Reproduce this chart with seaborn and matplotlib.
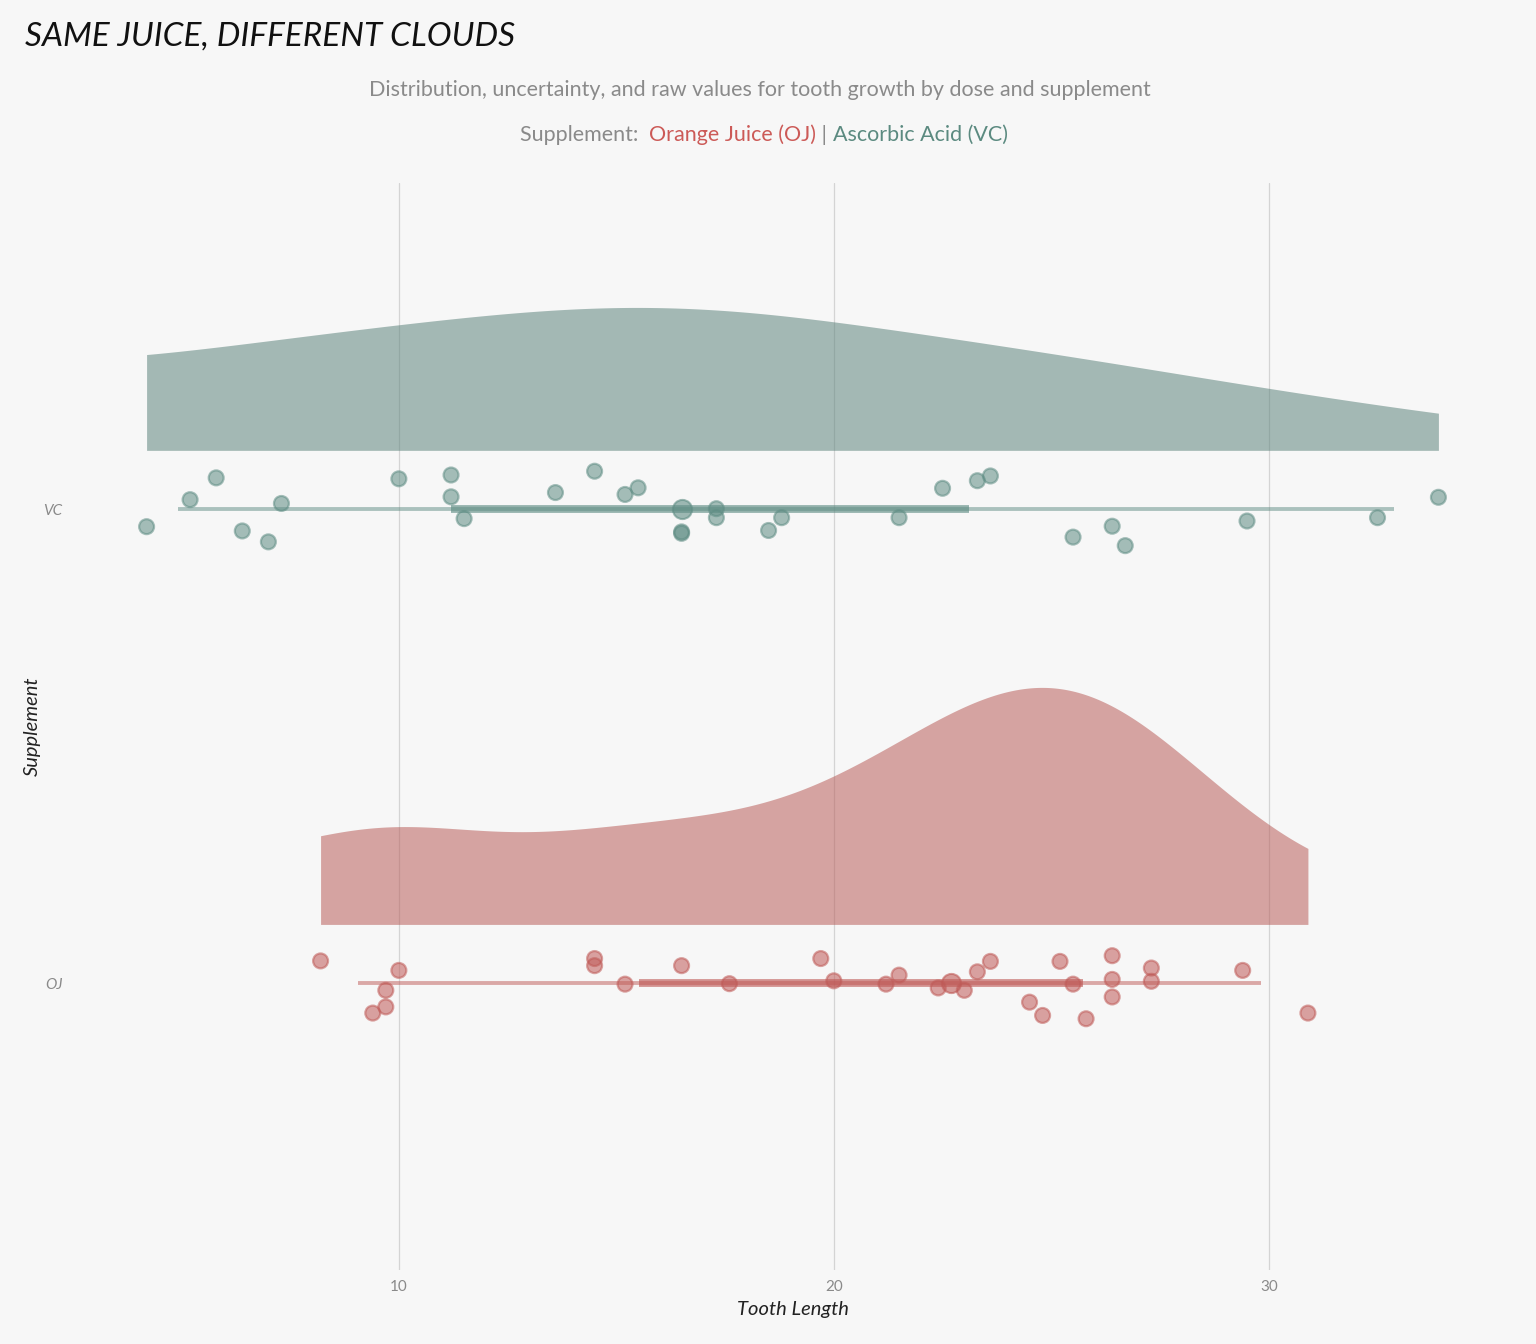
import numpy as np
import pandas as pd
import matplotlib
matplotlib.use("Agg")
import matplotlib.pyplot as plt
import seaborn as sns

# ---------------- data (ToothGrowth) ----------------
supp_levels = ["OJ", "VC"]
vc_len = [4.2, 5.2, 5.8, 6.4, 7.0, 7.3, 10.0, 11.2, 11.2, 11.5, 13.6, 14.5, 15.2, 15.5, 16.5,
          16.5, 17.3, 17.3, 18.5, 18.8, 21.5, 22.5, 23.3, 23.6, 25.5, 26.4, 26.7, 29.5, 32.5, 33.9]
vc_jitter = [-0.037, 0.020, 0.066, -0.046, -0.069, 0.012, 0.064, 0.072, 0.026, -0.020, 0.035, 0.080,
             0.031, 0.045, -0.048, -0.051, 0.001, -0.018, -0.045, -0.018, -0.018, 0.044, 0.060, 0.070,
             -0.059, -0.036, -0.077, -0.025, -0.018, 0.025]
oj_len = [8.2, 9.4, 9.7, 9.7, 10.0, 14.5, 14.5, 15.2, 16.5, 17.6, 19.7, 20.0, 21.2, 21.5, 22.4,
          23.0, 23.3, 23.6, 24.5, 24.8, 25.2, 25.5, 25.8, 26.4, 26.4, 26.4, 27.3, 27.3, 29.4, 30.9]
oj_jitter = [0.047, -0.063, -0.015, -0.050, 0.027, 0.052, 0.037, -0.002, 0.037, -0.001, 0.052, 0.005,
             -0.002, 0.017, -0.010, -0.015, 0.024, 0.046, -0.040, -0.068, 0.046, -0.002, -0.075, 0.058,
             0.008, -0.029, 0.032, 0.004, 0.027, -0.063]
x_ticks = [10, 20, 30]

title = "SAME JUICE, DIFFERENT CLOUDS"
subtitle = "Distribution, uncertainty, and raw values for tooth growth by dose and supplement"

# ---------------- styles ----------------
BG = "#f7f7f7"
point_col = {"OJ": "#bf5a57", "VC": "#5f8d84"}
fill_col = {"OJ": "#b95f5b", "VC": "#5f857e"}
text_red = "#cc5a57"
text_green = "#5b8a80"
grey = "#8a8a8a"
FONT = ["Lato", "DejaVu Sans"]

sns.set_theme(style="white", rc={"axes.facecolor": BG, "figure.facecolor": BG})
plt.rcParams["font.family"] = FONT

df = pd.DataFrame({
    "len": vc_len + oj_len,
    "supp": ["VC"] * len(vc_len) + ["OJ"] * len(oj_len),
    "jitter": vc_jitter + oj_jitter,
})
ypos = {"OJ": 1.0, "VC": 2.0}
df["y"] = df["supp"].map(ypos) + df["jitter"]

fig = plt.figure(figsize=(15.36, 13.44), dpi=100)
ax = fig.add_axes([82 / 1536, 1 - 1270 / 1344, (1503 - 82) / 1536, (1270 - 183) / 1344])
ax.set_facecolor(BG)

# ---------------- densities (half-eye clouds, bounded/reflected KDE) ----------------
bw = {"VC": 4.6, "OJ": 2.7}
pad_lo = {"VC": 2.6, "OJ": 2.4}
pad_hi = {"VC": 6.0, "OJ": 2.4}
dens = {}
for s in supp_levels:
    v = np.asarray(df.loc[df.supp == s, "len"])
    lo, hi = v.min() - pad_lo[s], v.max() + pad_hi[s]
    vv = np.concatenate([v, 2 * lo - v, 2 * hi - v])
    grid = np.linspace(v.min(), v.max(), 400)
    d = np.exp(-0.5 * ((grid[:, None] - vv[None, :]) / bw[s]) ** 2).sum(1) / (len(v) * bw[s] * np.sqrt(2 * np.pi))
    dens[s] = (grid, d)
dmax = max(d.max() for _, d in dens.values())
for s in supp_levels:
    grid, d = dens[s]
    base = ypos[s] + 0.124
    ax.fill_between(grid, base, base + 0.5 * d / dmax, color=fill_col[s], alpha=0.55, lw=0, zorder=2)

# ---------------- intervals ----------------
for s in supp_levels:
    v = np.asarray(df.loc[df.supp == s, "len"])
    q = np.quantile(v, [0.025, 0.25, 0.5, 0.75, 0.975])
    ax.hlines(ypos[s], q[0], q[4], color=point_col[s], alpha=0.5, lw=2.8, zorder=3)
    ax.hlines(ypos[s], q[1], q[3], color=point_col[s], alpha=0.65, lw=5.6, zorder=3)
    ax.scatter([q[2]], [ypos[s]], s=190, color=point_col[s], alpha=0.6, edgecolor=point_col[s],
               linewidth=1.5, zorder=4)

# ---------------- raw points ----------------
sns.scatterplot(data=df, x="len", y="y", hue="supp", palette=point_col, s=115, alpha=0.55,
                edgecolor=df["supp"].map(point_col), linewidth=1.6, legend=False, ax=ax, zorder=5)

# ---------------- axes ----------------
allv = np.array(vc_len + oj_len)
rng = allv.max() - allv.min()
ax.set_xlim(allv.min() - 0.05 * rng, allv.max() + 0.05 * rng)
ax.set_ylim(0.395, 2.688)
ax.set_xticks(x_ticks)
ax.set_xticklabels([str(t) for t in x_ticks], color=grey, fontsize=11)
ax.set_yticks([ypos[s] for s in supp_levels])
ax.set_yticklabels(supp_levels, color=grey, fontsize=11, style="italic")
ax.tick_params(axis="x", length=0, pad=7)
ax.tick_params(axis="y", length=0, pad=14)
ax.grid(axis="x", color="#d4d4d4", lw=0.9)
ax.grid(axis="y", visible=False)
ax.set_axisbelow(True)
for sp in ax.spines.values():
    sp.set_visible(False)
ax.set_xlabel("Tooth Length", fontsize=14.5, style="italic", color="#222222", labelpad=5)
ax.set_ylabel("Supplement", fontsize=14.5, style="italic", color="#222222", labelpad=2)

# ---------------- titles ----------------
fig.text(25 / 1536, 1 - 37 / 1344, title, fontsize=24, style="italic", color="#111111",
         ha="left", va="center")
fig.text(760 / 1536, 1 - 90 / 1344, subtitle, fontsize=15.5, color=grey, ha="center", va="center")

parts = [("Supplement:  ", grey), ("Orange Juice (OJ)", text_red), (" | ", grey),
         ("Ascorbic Acid (VC)", text_green)]
fig.canvas.draw()
r = fig.canvas.get_renderer()
texts, widths = [], []
for s, c in parts:
    t = fig.text(0, 1 - 135 / 1344, s, color=c, fontsize=15.5, ha="left", va="center")
    widths.append(t.get_window_extent(r).width)
    texts.append(t)
W = fig.bbox.width
x = 764 - sum(widths) / 2
for t, w in zip(texts, widths):
    t.set_x(x / W)
    x += w

fig.savefig("out.png", dpi=100, facecolor=BG)
